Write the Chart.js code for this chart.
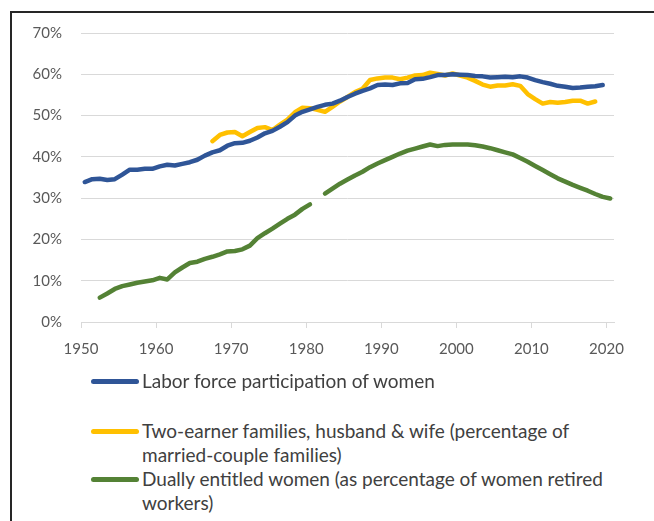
<!DOCTYPE html>
<html>
<head>
<meta charset="utf-8">
<script src="https://cdn.jsdelivr.net/npm/chart.js@4/dist/chart.umd.min.js"></script>
<style>
  body { margin: 0; background: #fff; }
  #wrap { position: relative; width: 654px; height: 521px; overflow: hidden; font-family: Lato, sans-serif; }
  #frame { position: absolute; left: 10px; top: 11px; width: 700px; height: 600px;
           border-top: 2px solid #262626; border-left: 2px solid #262626; }
  #chartBox { position: absolute; left: 0; top: 0; width: 654px; height: 370px; }
  .leg { position: absolute; left: 142px; color: #404040; font-size: 19px; line-height: 24px; white-space: nowrap; }
  .leg .mark { position: absolute; left: -51px; top: 10px; width: 48px; height: 5px; border-radius: 3px; }
</style>
</head>
<body>
<div id="wrap">
  <div id="frame"></div>
  <div id="chartBox"><canvas id="chart" width="654" height="370"></canvas></div>
  <div class="leg" style="top:369px"><span class="mark" style="background:#2F5597"></span>Labor force participation of women</div>
  <div class="leg" style="top:419px"><span class="mark" style="background:#FFC000"></span>Two-earner families, husband &amp; wife (percentage of<br>married-couple families)</div>
  <div class="leg" style="top:467px"><span class="mark" style="background:#548235"></span>Dually entitled women (as percentage of women retired<br>workers)</div>
</div>
<script>
// years on the x axis
var years = [1950,1951,1952,1953,1954,1955,1956,1957,1958,1959,
             1960,1961,1962,1963,1964,1965,1966,1967,1968,1969,
             1970,1971,1972,1973,1974,1975,1976,1977,1978,1979,
             1980,1981,1982,1983,1984,1985,1986,1987,1988,1989,
             1990,1991,1992,1993,1994,1995,1996,1997,1998,1999,
             2000,2001,2002,2003,2004,2005,2006,2007,2008,2009,
             2010,2011,2012,2013,2014,2015,2016,2017,2018,2019,
             2020];
var tickYears = [1950, 1960, 1970, 1980, 1990, 2000, 2010, 2020];

// percent values, one per year (null = no data)
var laborForce = [33.9,34.6,34.7,34.4,34.6,35.7,36.9,36.9,37.1,37.1,
                  37.7,38.1,37.9,38.3,38.7,39.3,40.3,41.1,41.6,42.7,
                  43.3,43.4,43.9,44.7,45.7,46.3,47.3,48.4,50.0,50.9,
                  51.5,52.1,52.6,52.9,53.6,54.5,55.3,56.0,56.6,57.4,
                  57.5,57.4,57.8,57.9,58.8,58.9,59.3,59.8,59.8,60.0,
                  59.9,59.8,59.6,59.5,59.2,59.3,59.4,59.3,59.5,59.2,
                  58.6,58.1,57.7,57.2,57.0,56.7,56.8,57.0,57.1,57.4,
                  null];
var twoEarner = [null,null,null,null,null,null,null,null,null,null,
                 null,null,null,null,null,null,null,43.8,45.3,45.9,
                 46.0,45.0,46.0,47.0,47.2,46.5,47.8,49.0,50.8,51.9,
                 51.8,51.4,50.9,52.1,53.4,54.5,55.7,56.5,58.6,59.0,
                 59.2,59.2,58.8,59.2,59.7,59.8,60.4,60.1,59.7,60.2,
                 59.7,59.2,58.4,57.5,57.0,57.3,57.3,57.6,57.2,55.2,
                 54.0,52.9,53.3,53.1,53.3,53.6,53.6,52.9,53.4,null,
                 null];
var duallyEntitled = [null,null,5.9,6.9,8.0,8.7,9.1,9.5,9.8,10.1,
                      10.7,10.3,12.0,13.2,14.3,14.6,15.3,15.8,16.4,17.1,
                      17.2,17.6,18.5,20.3,21.5,22.6,23.8,25.0,26.0,27.4,
                      28.5,null,31.1,32.3,33.5,34.5,35.5,36.4,37.5,38.4,
                      39.2,40.0,40.8,41.5,42.0,42.5,43.0,42.6,42.9,43.0,
                      43.0,43.0,42.8,42.5,42.1,41.6,41.1,40.6,39.7,38.8,
                      37.8,36.8,35.8,34.8,34.0,33.2,32.5,31.8,31.0,30.3,
                      29.9];

function points(vals) {
  return years.map(function(yr, i) { return { x: yr, y: vals[i] }; });
}

function series(label, vals, color) {
  return {
    label: label,
    data: points(vals),
    borderColor: color,
    backgroundColor: color,
    borderWidth: 4.5,
    borderCapStyle: 'round',
    borderJoinStyle: 'round',
    pointRadius: 0,
    tension: 0,
    spanGaps: false
  };
}

var tickFont = { family: 'Lato', size: 15 };

new Chart(document.getElementById('chart'), {
  type: 'line',
  data: {
    datasets: [
      series('Labor force participation of women', laborForce, '#2F5597'),
      series('Two-earner families, husband & wife (percentage of married-couple families)', twoEarner, '#FFC000'),
      series('Dually entitled women (as percentage of women retired workers)', duallyEntitled, '#548235')
    ]
  },
  options: {
    responsive: false,
    animation: false,
    layout: { padding: { top: 33, left: 0, right: 40, bottom: 0 } },
    plugins: { legend: { display: false }, tooltip: { enabled: false } },
    scales: {
      x: {
        type: 'linear',
        min: 1949.5,
        max: 2020.5,
        afterBuildTicks: function(scale) {
          scale.ticks = tickYears.map(function(y) { return { value: y - 0.5 }; });
        },
        afterFit: function(scale) { scale.height = 48; },
        ticks: {
          autoSkip: false,
          maxRotation: 0,
          padding: 12,
          color: '#595959',
          font: tickFont,
          callback: function(v) { return Math.round(v + 0.5); }
        },
        grid: { drawOnChartArea: false, drawTicks: true, tickLength: 6, color: '#d9d9d9' },
        border: { color: '#d9d9d9' }
      },
      y: {
        min: 0,
        max: 70,
        afterFit: function(scale) { scale.width = 81; },
        ticks: {
          stepSize: 10,
          padding: 19,
          color: '#595959',
          font: tickFont,
          callback: function(v) { return v + '%'; }
        },
        grid: { color: '#d9d9d9', drawTicks: false },
        border: { display: false }
      }
    }
  }
});
</script>
</body>
</html>
